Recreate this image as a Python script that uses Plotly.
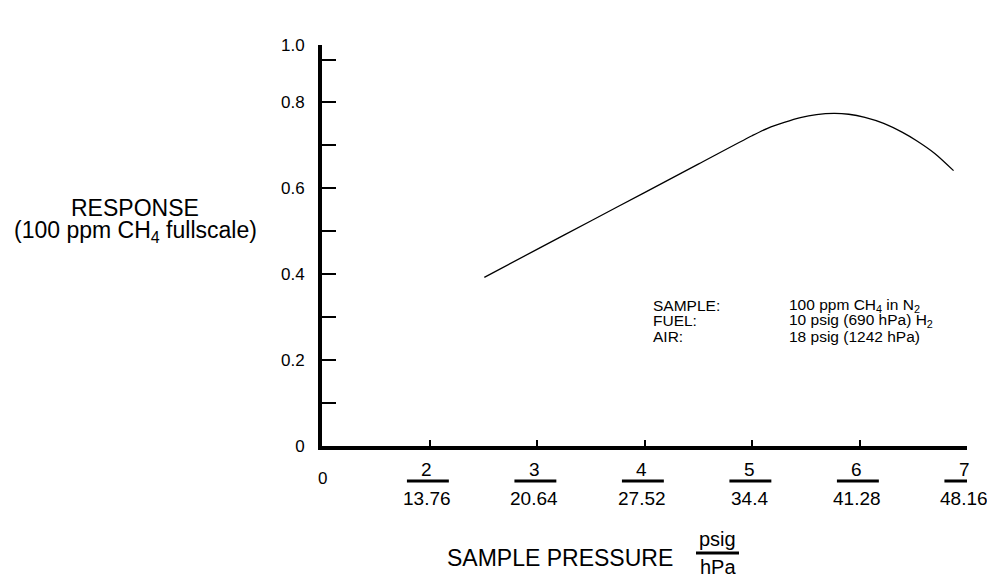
import plotly.graph_objects as go

# ---- data ----
pressure_psig = [2.51, 3.0, 3.5, 4.0, 4.5, 5.0, 5.15, 5.3, 5.45, 5.6, 5.76, 5.9, 6.05, 6.225, 6.4, 6.535, 6.7, 6.875]
response = [0.392, 0.457, 0.523, 0.589, 0.655, 0.721, 0.739, 0.752, 0.763, 0.770, 0.773, 0.771, 0.764, 0.750, 0.729, 0.709, 0.680, 0.640]

x_tick_psig = [2, 3, 4, 5, 6, 7]
x_tick_hpa = ["13.76", "20.64", "27.52", "34.4", "41.28", "48.16"]

# the reference axis is drawn compressed at the top: its "1.0" sits where 0.932 would be
y_axis_top = 0.932
y_major_vals = [0, 0.2, 0.4, 0.6, 0.8, y_axis_top]
y_major_text = ["0", "0.2", "0.4", "0.6", "0.8", "1.0"]
y_minor_vals = [0.1, 0.3, 0.5, 0.7, 0.897]

info_labels = ["SAMPLE:", "FUEL:", "AIR:"]
info_values = ["100 ppm CH<sub>4</sub> in N<sub>2</sub>",
               "10 psig (690 hPa) H<sub>2</sub>",
               "18 psig (1242 hPa)"]

FONT = "Liberation Sans, Arial, sans-serif"
L, R, T, B = 322, 20, 45, 128
BOTTOM = 574 - B  # pixel row of the plot-area bottom

fig = go.Figure()
fig.add_trace(go.Scatter(
    x=pressure_psig, y=response, mode="lines",
    line=dict(color="black", width=1.3, shape="spline", smoothing=0.8),
    showlegend=False, hoverinfo="skip"))

annotations = []
shapes = []
# x tick labels as fractions psig / hPa
for v, h in zip(x_tick_psig, x_tick_hpa):
    annotations.append(dict(x=v, y=0, xref="x", yref="paper", text=str(v),
                            showarrow=False, yanchor="middle", yshift=-(469 - BOTTOM), xshift=-3,
                            font=dict(size=19, color="black", family=FONT)))
    annotations.append(dict(x=v, y=0, xref="x", yref="paper", text=h,
                            showarrow=False, yanchor="middle", yshift=-(498 - BOTTOM), xshift=-3,
                            font=dict(size=19, color="black", family=FONT)))
    shapes.append(dict(type="line", xref="x", yref="paper", x0=v - 0.21, x1=v + 0.18,
                       y0=-(481 - BOTTOM), y1=-(481 - BOTTOM), ysizemode="pixel", yanchor=0,
                       line=dict(color="black", width=3)))
# stray "0" below the origin
annotations.append(dict(x=1, y=0, xref="x", yref="paper", text="0", showarrow=False,
                        yanchor="middle", yshift=-(478 - BOTTOM),
                        font=dict(size=17, color="black", family=FONT)))

# y axis title (two lines)
for txt, yc in [("RESPONSE", 208), ("(100 ppm CH<sub>4</sub> fullscale)", 231)]:
    annotations.append(dict(x=0, y=0, xref="paper", yref="paper", text=txt,
                            showarrow=False, xanchor="center", yanchor="middle",
                            xshift=135 - L, yshift=-(yc - BOTTOM),
                            font=dict(size=23, color="black", family=FONT)))

# x axis title with psig/hPa fraction
annotations.append(dict(x=0, y=0, xref="paper", yref="paper", text="SAMPLE PRESSURE",
                        showarrow=False, xanchor="right", yanchor="middle",
                        xshift=675 - L, yshift=-(558 - BOTTOM),
                        font=dict(size=23, color="black", family=FONT)))
annotations.append(dict(x=0, y=0, xref="paper", yref="paper", text="psig",
                        showarrow=False, xanchor="center", yanchor="middle",
                        xshift=717 - L, yshift=-(539 - BOTTOM),
                        font=dict(size=20, color="black", family=FONT)))
annotations.append(dict(x=0, y=0, xref="paper", yref="paper", text="hPa",
                        showarrow=False, xanchor="center", yanchor="middle",
                        xshift=718 - L, yshift=-(567 - BOTTOM),
                        font=dict(size=20, color="black", family=FONT)))
shapes.append(dict(type="line", xref="paper", yref="paper",
                   xsizemode="pixel", xanchor=0, ysizemode="pixel", yanchor=0,
                   x0=696 - L, x1=739 - L, y0=-(553 - BOTTOM), y1=-(553 - BOTTOM),
                   line=dict(color="black", width=3)))

# info block
for i, (lab, val) in enumerate(zip(info_labels, info_values)):
    ycen = 305 + i * 15.5
    annotations.append(dict(x=0, y=0, xref="paper", yref="paper", text=lab,
                            showarrow=False, xanchor="left", yanchor="middle",
                            xshift=651 - L, yshift=-(ycen - BOTTOM),
                            font=dict(size=15.5, color="black", family=FONT)))
    annotations.append(dict(x=0, y=0, xref="paper", yref="paper", text=val,
                            showarrow=False, xanchor="left", yanchor="middle",
                            xshift=787 - L, yshift=-(ycen - BOTTOM),
                            font=dict(size=15.5, color="black", family=FONT)))

fig.update_layout(
    width=987, height=574,
    margin=dict(l=L, r=R, t=T, b=B, pad=0),
    paper_bgcolor="white", plot_bgcolor="white",
    font=dict(family=FONT, color="black", size=17),
    xaxis=dict(range=[1, 7], showgrid=False, zeroline=False, showline=True,
               linecolor="black", linewidth=4, ticks="inside", ticklen=6, tickwidth=1.5,
               tickcolor="black", tickvals=x_tick_psig, showticklabels=False),
    yaxis=dict(range=[0, y_axis_top], showgrid=False, zeroline=False, showline=True,
               linecolor="black", linewidth=4, ticks="inside", ticklen=14, tickwidth=2,
               tickcolor="black", tickvals=y_major_vals, ticktext=y_major_text,
               ticklabelstandoff=10, tickfont=dict(size=17, family=FONT),
               minor=dict(tickvals=y_minor_vals, ticks="inside", ticklen=14,
                          tickwidth=2, tickcolor="black", showgrid=False)),
    annotations=annotations, shapes=shapes,
)

fig.write_html("out.html", config={"displayModeBar": False},
               post_script="document.body.style.margin='0';")
